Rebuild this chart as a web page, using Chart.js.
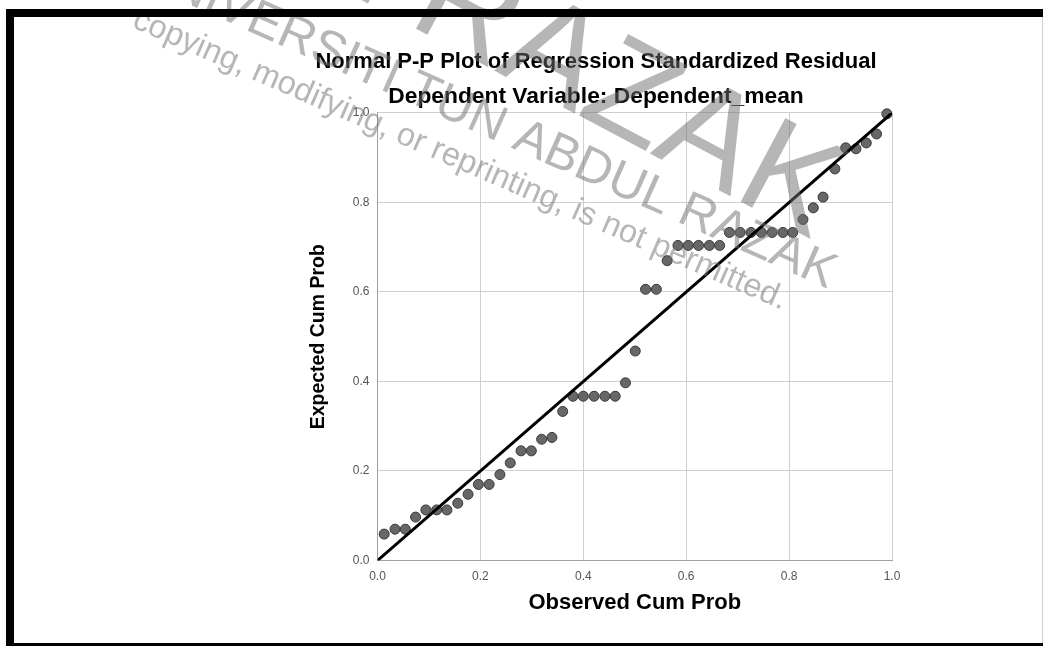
<!DOCTYPE html>
<html>
<head>
<meta charset="utf-8">
<script src="https://cdn.jsdelivr.net/npm/chart.js@4.4.1/dist/chart.umd.min.js"></script>
<style>
  html, body { margin: 0; padding: 0; background: #fff; }
  #wrap { position: relative; width: 1043px; height: 646px; overflow: hidden; }
  #chart { position: absolute; left: 0; top: 0; }
  .bar { position: absolute; background: #000; }
</style>
</head>
<body>
<div id="wrap">
  <canvas id="chart" width="1043" height="646"></canvas>
  <div class="bar" style="left:6px;top:9px;width:1037px;height:8px"></div>
  <div class="bar" style="left:6px;top:9px;width:8px;height:637px"></div>
  <div class="bar" style="left:6px;top:643px;width:1037px;height:3px"></div>
  <div style="position:absolute;left:1042px;top:17px;width:1px;height:626px;background:#d0d0d0"></div>
</div>
<script>
// observed vs expected cumulative probability (49 residuals)
const observedCumProb = [
  0.013, 0.034, 0.054, 0.074, 0.094, 0.115, 0.135, 0.156, 0.176, 0.196,
  0.217, 0.238, 0.258, 0.279, 0.299, 0.319, 0.339, 0.360, 0.380, 0.400,
  0.421, 0.442, 0.462, 0.482, 0.501, 0.521, 0.542, 0.563, 0.584, 0.604,
  0.624, 0.645, 0.665, 0.684, 0.705, 0.726, 0.746, 0.767, 0.788, 0.807,
  0.827, 0.847, 0.866, 0.889, 0.910, 0.930, 0.950, 0.970, 0.990
];
const expectedCumProb = [
  0.059, 0.070, 0.070, 0.097, 0.113, 0.113, 0.113, 0.128, 0.148, 0.170,
  0.170, 0.192, 0.218, 0.245, 0.245, 0.271, 0.275, 0.333, 0.367, 0.367,
  0.367, 0.367, 0.367, 0.397, 0.468, 0.606, 0.606, 0.670, 0.704, 0.704,
  0.704, 0.704, 0.704, 0.733, 0.733, 0.733, 0.733, 0.733, 0.733, 0.733,
  0.762, 0.788, 0.812, 0.875, 0.922, 0.920, 0.933, 0.953, 0.998
];
const refLineX = [0, 1];
const refLineY = [0, 1];
const axisTicks = [0, 0.2, 0.4, 0.6, 0.8, 1.0];

const FONT = "'Liberation Sans', Arial, sans-serif";

const watermark = {
  id: 'watermark',
  afterDraw(chart) {
    const ctx = chart.ctx;
    const marks = [
      { text: 'UNIVERSITI TUN ABDUL RAZAK', x: 830, y: 206, angle: 28, size: 138, align: 'right' },
      { text: 'UNIVERSITI TUN ABDUL RAZAK', x: 487, y: 122, angle: 24, size: 50, align: 'center' },
      { text: 'copying, modifying, or reprinting, is not permitted.', x: 460, y: 160, angle: 23.5, size: 32.5, align: 'center' }
    ];
    ctx.save();
    ctx.fillStyle = 'rgba(110,110,110,0.5)';
    ctx.textBaseline = 'middle';
    marks.forEach(m => {
      ctx.save();
      ctx.translate(m.x, m.y);
      ctx.rotate(m.angle * Math.PI / 180);
      ctx.font = m.size + 'px ' + FONT;
      ctx.textAlign = m.align;
      ctx.fillText(m.text, 0, 0);
      ctx.restore();
    });
    ctx.restore();
  }
};

const points = observedCumProb.map((x, i) => ({ x: x, y: expectedCumProb[i] }));
const line = refLineX.map((x, i) => ({ x: x, y: refLineY[i] }));

const setTicks = scale => { scale.ticks = axisTicks.map(v => ({ value: v })); };

new Chart(document.getElementById('chart').getContext('2d'), {
  type: 'scatter',
  data: {
    datasets: [{
      data: line,
      showLine: true,
      borderColor: '#000',
      borderWidth: 3,
      pointRadius: 0,
      order: 0
    }, {
      data: points,
      pointRadius: 5,
      pointHoverRadius: 5,
      backgroundColor: '#676767',
      borderColor: '#383838',
      borderWidth: 1,
      clip: false,
      order: 1
    }]
  },
  options: {
    responsive: false,
    animation: false,
    layout: { padding: { left: 300, right: 151, top: 30, bottom: 25.5 } },
    plugins: {
      legend: { display: false },
      tooltip: { enabled: false },
      title: {
        display: true,
        text: 'Normal P-P Plot of Regression Standardized Residual',
        color: '#000',
        font: { family: FONT, size: 22, weight: 'bold' },
        padding: { top: 18.8, bottom: 4 }
      },
      subtitle: {
        display: true,
        text: 'Dependent Variable: Dependent_mean',
        color: '#000',
        font: { family: FONT, size: 22.8, weight: 'bold' },
        padding: { top: 4.2, bottom: 2.2 }
      }
    },
    scales: {
      x: {
        type: 'linear',
        min: 0,
        max: 1,
        afterBuildTicks: setTicks,
        afterFit: s => { s.height = 60; },
        grid: { color: '#cfcfcf', drawTicks: false },
        border: { color: '#a0a0a0' },
        ticks: {
          padding: 9,
          color: '#555',
          font: { family: FONT, size: 12 },
          callback: v => v.toFixed(1)
        },
        title: {
          display: true,
          text: 'Observed Cum Prob',
          color: '#000',
          font: { family: FONT, size: 22, weight: 'bold' },
          padding: { top: 0, bottom: 4.5 }
        }
      },
      y: {
        type: 'linear',
        min: 0,
        max: 1,
        afterBuildTicks: setTicks,
        afterFit: s => { s.width = 77.5; },
        grid: { color: '#cfcfcf', drawTicks: false },
        border: { color: '#a0a0a0' },
        ticks: {
          padding: 8,
          color: '#555',
          font: { family: FONT, size: 12 },
          callback: v => v.toFixed(1)
        },
        title: {
          display: true,
          text: 'Expected Cum Prob',
          color: '#000',
          font: { family: FONT, size: 19.5, weight: 'bold' },
          padding: { top: 7, bottom: 0 }
        }
      }
    }
  },
  plugins: [watermark]
});
</script>
</body>
</html>
